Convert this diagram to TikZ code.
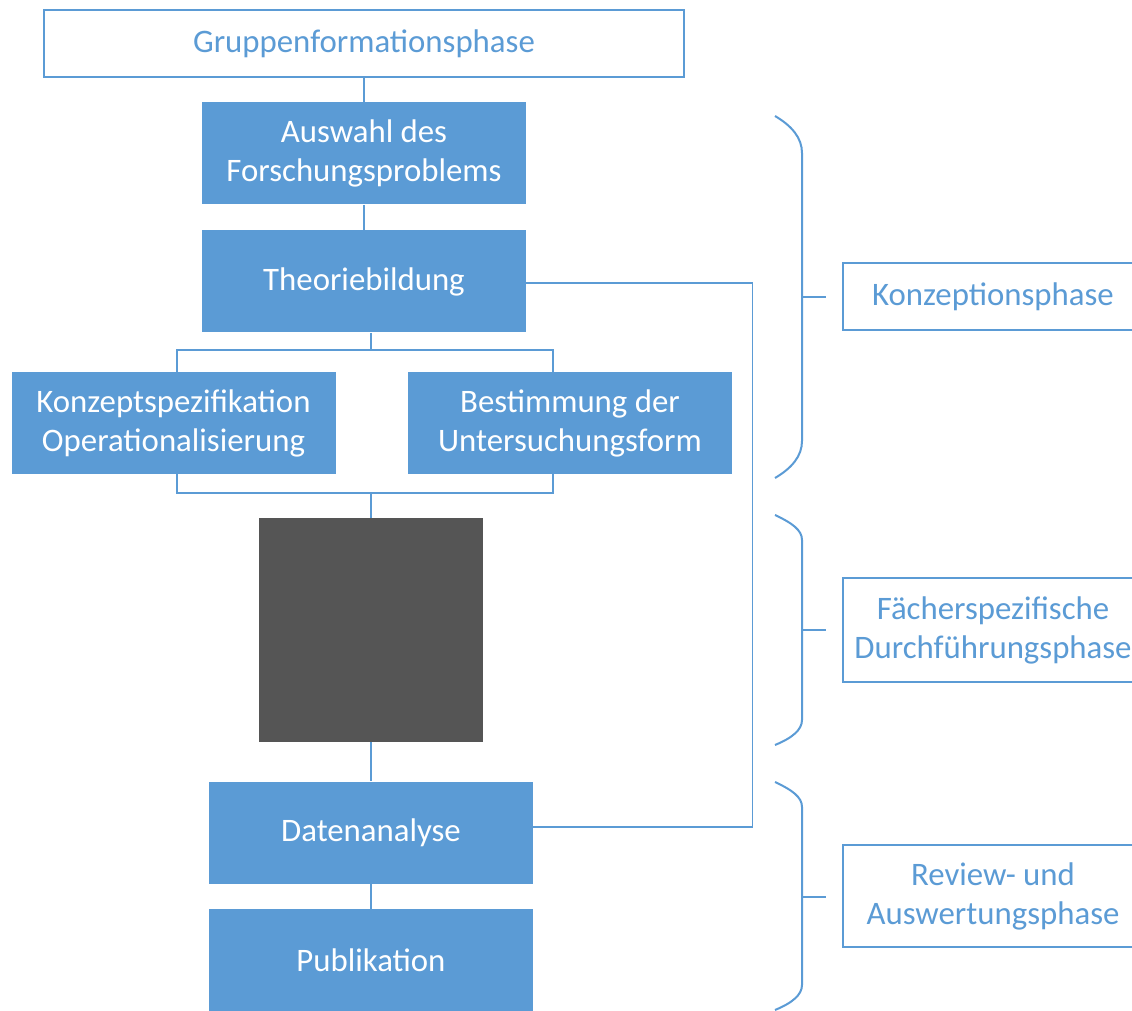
\documentclass[tikz,border=0pt]{standalone}
\usepackage{fontspec}
\setmainfont{Carlito}
\usepackage{xcolor}
\usepackage{tikz}
\usetikzlibrary{positioning}
\definecolor{phaseblue}{RGB}{91, 155, 213}
\definecolor{fieldgray}{RGB}{85, 85, 85}

\begin{document}
\begin{tikzpicture}[
  x=0.5pt, y=-0.5pt,
  phase/.style={
    rectangle, draw=phaseblue, fill=white, text=phaseblue,
    line width=1pt, minimum width=150pt, inner sep=0pt,
    font=\fontsize{16.4}{19.5}\selectfont, align=center
  },
  task/.style={
    rectangle, fill=phaseblue, text=white,
    minimum width=162pt, minimum height=51pt, inner sep=0pt,
    font=\fontsize{16.4}{19.5}\selectfont, align=center
  },
  link/.style={draw=phaseblue, line width=0.8pt},
  brace/.style={draw=phaseblue, line width=1pt},
]

\useasboundingbox (0,0) rectangle (1132,1011);
\clip (0,0) rectangle (1132,1011);

\def\colL{173.5}
\def\colM{364}
\def\colN{371}
\def\colR{570}
\def\colP{993}

% main column
\node[phase, minimum width=320pt, minimum height=33.5pt] (grp) at (\colM, 43.5) {Gruppenformationsphase};
\node[task] (ausw) at (\colM, 153.5) {Auswahl des\\Forschungsproblems};
\node[task] (theo) at (\colM, 281.5) {Theoriebildung};
\node[task] (konz) at (\colL, 423) {Konzeptspezifikation\\Operationalisierung};
\node[task] (best) at (\colR, 423) {Bestimmung der\\Untersuchungsform};
\node[rectangle, fill=fieldgray, minimum width=112pt, minimum height=112pt] (feld) at (\colN, 630) {};
\node[task] (daten) at (\colN, 832.5) {Datenanalyse};
\node[task] (publ) at (\colN, 960) {Publikation};

% phases on the right
\node[phase, minimum height=33.5pt] (konzph) at (\colP, 296.5) {Konzeptionsphase};
\node[phase, minimum height=52pt] (durchph) at (\colP, 630) {Fächerspezifische\\Durchführungsphase};
\node[phase, minimum height=51pt] (revph) at (\colP, 896) {Review- und\\Auswertungsphase};

% connectors
\coordinate (forkT) at (\colN, 350);
\coordinate (forkB) at (\colN, 493);
\draw[link] (grp.south) -- (ausw.north);
\draw[link] (ausw.south) -- (theo.north);
\draw[link] (theo.south -| forkT) -- (forkT);
\draw[link] ([xshift=1.75pt]konz.north) |- (forkT) -| ([xshift=-8.5pt]best.north);
\draw[link] ([xshift=1.75pt]konz.south) |- (forkB) -| ([xshift=-8.5pt]best.south);
\draw[link] (forkB) -- (feld.north);
\draw[link] (feld.south) -- (daten.north);
\draw[link] (daten.south) -- (publ.north);

% feedback loop
\draw[link] ([yshift=-0.75pt]theo.east) -| ([xshift=109.5pt, yshift=2.75pt]daten.east) -- ([yshift=2.75pt]daten.east);

% braces
\draw[brace] (775,116) .. controls (792,126) and (802,138) .. (802,153) -- (802,441) .. controls (802,456) and (792,468) .. (775,478);
\draw[brace] (775,515) .. controls (792,523) and (802,530) .. (802,540) -- (802,720) .. controls (802,730) and (792,738) .. (775,745);
\draw[brace] (775,782) .. controls (792,790) and (802,797) .. (802,807) -- (802,985) .. controls (802,995) and (792,1003) .. (775,1010);
\coordinate (tickA) at (802, 297);
\coordinate (tickB) at (802, 630);
\coordinate (tickC) at (802, 897);
\draw[brace] (tickA) -- ([xshift=-8pt]konzph.west |- tickA);
\draw[brace] (tickB) -- ([xshift=-8pt]durchph.west |- tickB);
\draw[brace] (tickC) -- ([xshift=-8pt]revph.west |- tickC);

\end{tikzpicture}
\end{document}
